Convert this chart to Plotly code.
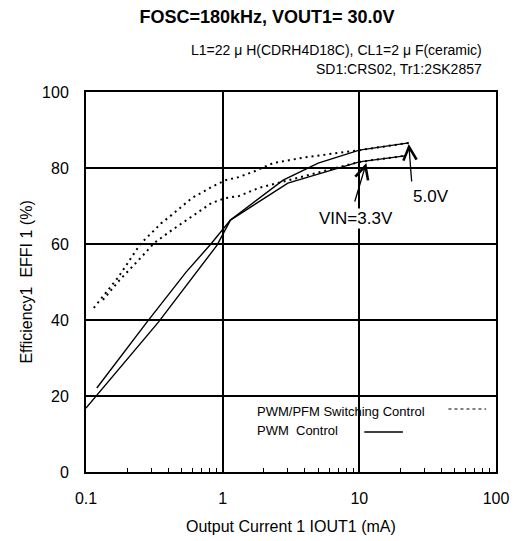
import numpy as np
import plotly.graph_objects as go

# ---------------- data ----------------
# PWM control (solid)
I_pwm_50 = [0.12, 0.28, 0.54, 0.82, 1.14, 2.77, 5.0, 10, 23]
E_pwm_50 = [22.1, 39.5, 52.6, 60.0, 66.3, 76.8, 81.3, 84.7, 86.6]
I_pwm_33 = [0.10, 0.34, 0.91, 1.14, 3.0, 6.9, 10, 21.5]
E_pwm_33 = [16.8, 39.5, 59.7, 66.3, 76.0, 80.0, 81.6, 83.2]
# PWM/PFM switching control (dotted)
I_pfm_50 = [0.114, 0.171, 0.25, 0.356, 0.406, 0.596, 0.83, 1.05, 1.31, 1.73, 2.34, 4.0, 7.8, 10, 23]
E_pfm_50 = [43.2, 51.1, 60.0, 65.5, 67.1, 72.1, 75.0, 76.8, 77.6, 79.2, 81.3, 82.8, 84.2, 84.7, 86.6]
I_pfm_33 = [0.133, 0.176, 0.255, 0.316, 0.427, 0.52, 0.637, 0.83, 1.05, 1.31, 1.82, 2.4, 5.0, 10, 21.5]
E_pfm_33 = [45.3, 50.5, 56.6, 60.3, 63.7, 65.8, 68.2, 70.8, 72.1, 72.6, 74.7, 75.8, 78.8, 81.6, 83.2]

x_tick_vals = [0.1, 1, 10, 100]
x_tick_text = ["0.1", "1", "10", "100"]
x_minor_vals = [0.2, 0.3, 0.4, 0.5, 0.6, 0.7, 0.8, 0.9,
                2, 3, 4, 5, 6, 7, 8, 9,
                20, 30, 40, 50, 60, 70, 80, 90]
y_tick_vals = [0, 20, 40, 60, 80, 100]

title_text = "<b>FOSC=180kHz, VOUT1= 30.0V</b>"
sub1 = "L1=22 μ H(CDRH4D18C), CL1=2 μ F(ceramic)"
sub2 = "SD1:CRS02, Tr1:2SK2857"
x_title = "Output Current 1 IOUT1 (mA)"
y_title = "Efficiency1\u00a0 EFFI 1 (%)"
leg_pfm = "PWM/PFM Switching Control"
leg_pwm = "PWM\u00a0 Control"
lab_33 = "VIN=3.3V"
lab_50 = "5.0V"
arrow_33 = (11.25, 81.3)
arrow_50 = (23, 86.3)

# ---------------- layout helpers ----------------
OFF = 8                      # page body margin of the browser
W, H = 521 - OFF, 541 - OFF
L, R, T, B = 86 - OFF, 21, 92 - OFF, 69
PW = W - L - R               # 414
PH = H - T - B               # 380
def px(x):                   # x in reference-window pixels -> paper
    return (x - 86) / PW
def py(y):
    return (472 - y) / PH

FONT = "Liberation Sans, Arial, sans-serif"
fig = go.Figure()

dot = dict(color="black", width=2, dash="2px,4px")
sol = dict(color="black", width=1.4)
for xs, ys, ln in [(I_pfm_50, E_pfm_50, dot), (I_pfm_33, E_pfm_33, dot),
                   (I_pwm_50, E_pwm_50, sol), (I_pwm_33, E_pwm_33, sol)]:
    fig.add_trace(go.Scatter(x=xs, y=ys, mode="lines", line=ln, showlegend=False,
                             hoverinfo="skip"))

fig.update_layout(
    width=W, height=H,
    margin=dict(l=L, r=R, t=T, b=B),
    paper_bgcolor="white", plot_bgcolor="white",
    font=dict(family=FONT, color="black"),
    showlegend=False,
    title=dict(text=title_text, x=(267 - OFF) / W, xref="container", xanchor="center",
               y=1 - (17 - OFF) / H, yref="container", yanchor="middle",
               font=dict(family=FONT, size=18, color="black")),
)
fig.update_layout(
    xaxis=dict(
        type="log", range=[-1, 2], tickvals=x_tick_vals, ticktext=x_tick_text,
        showgrid=True, gridcolor="black", gridwidth=1.6,
        showline=True, linecolor="black", linewidth=2, mirror=True,
        ticks="inside", ticklen=1, tickwidth=1, tickcolor="black",
        ticklabelstandoff=11, zeroline=False,
        minor=dict(ticks="inside", tickmode="array", tickvals=x_minor_vals,
                   ticklen=4, tickwidth=1.4, tickcolor="#000000", showgrid=False),
        tickfont=dict(family=FONT, size=16, color="black"),
    ),
    yaxis=dict(
        range=[0, 100], tickvals=y_tick_vals,
        showgrid=True, gridcolor="black", gridwidth=1.6,
        showline=True, linecolor="black", linewidth=2, mirror=True,
        ticks="", ticklabelstandoff=12, zeroline=False,
        tickfont=dict(family=FONT, size=16, color="black"),
    ),
)

ann = []
# subtitles
ann.append(dict(text=sub1, x=px(488), y=py(50), xref="paper", yref="paper",
                xanchor="right", yanchor="middle", showarrow=False,
                font=dict(size=14, family=FONT)))
ann.append(dict(text=sub2, x=px(488), y=py(69), xref="paper", yref="paper",
                xanchor="right", yanchor="middle", showarrow=False,
                font=dict(size=14, family=FONT)))
# axis titles
ann.append(dict(text=x_title, x=px(293), y=py(526), xref="paper", yref="paper",
                xanchor="center", yanchor="middle", showarrow=False,
                font=dict(size=16, family=FONT)))
ann.append(dict(text=y_title, x=px(25), y=py(282), xref="paper", yref="paper",
                xanchor="center", yanchor="middle", showarrow=False, textangle=-90,
                font=dict(size=16, family=FONT)))
# arrows
ann.append(dict(text="", x=np.log10(arrow_33[0]), y=arrow_33[1], xref="x", yref="y",
                ax=-12, ay=40, showarrow=True, arrowhead=5, arrowsize=2,
                arrowwidth=1.3, arrowcolor="black"))
ann.append(dict(text="", x=np.log10(arrow_50[0]), y=arrow_50[1], xref="x", yref="y",
                ax=3, ay=39, showarrow=True, arrowhead=5, arrowsize=2,
                arrowwidth=1.3, arrowcolor="black"))
ann.append(dict(text=lab_33, x=px(359), y=py(218), xref="paper", yref="paper",
                xanchor="center", yanchor="middle", showarrow=False,
                bgcolor="white", borderpad=0, font=dict(size=17, family=FONT)))
ann.append(dict(text=lab_50, x=px(434), y=py(196), xref="paper", yref="paper",
                xanchor="center", yanchor="middle", showarrow=False,
                font=dict(size=17, family=FONT)))
# legend texts
ann.append(dict(text=leg_pfm, x=px(257), y=py(411), xref="paper", yref="paper",
                xanchor="left", yanchor="middle", showarrow=False,
                font=dict(size=13, family=FONT)))
ann.append(dict(text=leg_pwm, x=px(257), y=py(430), xref="paper", yref="paper",
                xanchor="left", yanchor="middle", showarrow=False,
                font=dict(size=13, family=FONT)))
fig.update_layout(annotations=ann)

shapes = [
    dict(type="rect", xref="paper", yref="paper", x0=px(252), x1=px(498),
         y0=py(446), y1=py(399), fillcolor="white", line=dict(width=0), layer="between"),
    dict(type="line", xref="paper", yref="paper", x0=px(452), x1=px(490),
         y0=py(409), y1=py(409), line=dict(color="black", width=1, dash="dot"), layer="above"),
    dict(type="line", xref="paper", yref="paper", x0=px(367), x1=px(406),
         y0=py(432), y1=py(432), line=dict(color="black", width=1.3), layer="above"),
]
fig.update_layout(shapes=shapes)

fig.write_html("out.html")
